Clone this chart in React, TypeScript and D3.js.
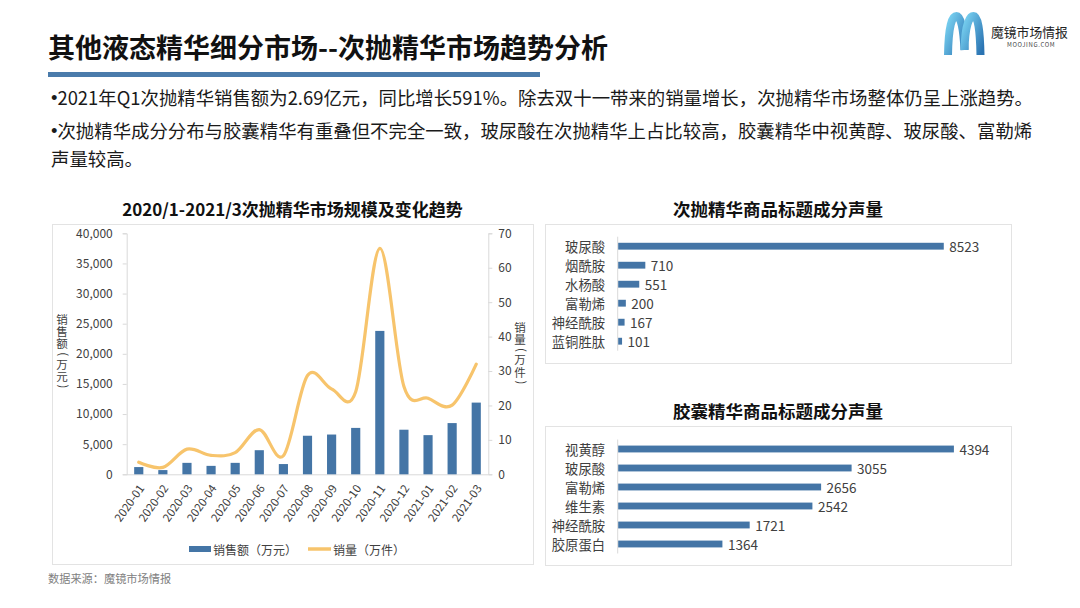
import { useRef, useEffect } from 'react'
import * as d3 from 'd3'

const FONT = "'Noto Sans CJK SC', 'Microsoft YaHei', sans-serif"
const BLUE = '#4475A6'
const ORANGE = '#F7C46C'
const AXIS = '#D9D9D9'
const TXT = '#404040'

// left combo chart
const MONTHS = ['2020-01', '2020-02', '2020-03', '2020-04', '2020-05', '2020-06', '2020-07', '2020-08',
  '2020-09', '2020-10', '2020-11', '2020-12', '2021-01', '2021-02', '2021-03']
const SALES = [1200, 700, 1900, 1400, 1900, 4000, 1700, 6400, 6600, 7700, 23800, 7400, 6500, 8500, 11900]
const VOLUME = [3.5, 2.0, 7.3, 5.5, 6.3, 13.0, 5.4, 28.7, 24.8, 24.0, 65.6, 25.5, 22.1, 20.1, 32.0]
const SALES_TICKS = [0, 5000, 10000, 15000, 20000, 25000, 30000, 35000, 40000]
const VOLUME_TICKS = [0, 10, 20, 30, 40, 50, 60, 70]

// right bar charts
const SINGLE_LABELS = ['玻尿酸', '烟酰胺', '水杨酸', '富勒烯', '神经酰胺', '蓝铜胜肽']
const SINGLE_VALUES = [8523, 710, 551, 200, 167, 101]
const CAPSULE_LABELS = ['视黄醇', '玻尿酸', '富勒烯', '维生素', '神经酰胺', '胶原蛋白']
const CAPSULE_VALUES = [4394, 3055, 2656, 2542, 1721, 1364]

const PLOT = { left: 126.7, right: 488.3, top: 233.3, bottom: 474.3 }

type Sel = d3.Selection<SVGSVGElement, unknown, null, undefined>

// stacked upright characters in one text element, brackets turned like Excel's vertical titles
function verticalText(svg: Sel, label: string, cx: number, cy: number, size: number) {
  const chars = Array.from(label)
  const isBracket = (c: string) => c === '（' || c === '）'
  const adv = size * 0.34
  const steps = chars.map((c) => (isBracket(c) ? 8 : 12.2))
  let y = cy - d3.sum(steps) / 2
  const t = svg.append('text').attr('font-size', size).attr('fill', TXT)
  chars.forEach((c, i) => {
    const yc = y + steps[i] / 2
    y += steps[i]
    if (isBracket(c)) {
      t.append('tspan')
        .attr('x', cx - size * 0.3).attr('y', yc - adv / 2).attr('rotate', 90)
        .text(c === '（' ? '(' : ')')
    } else {
      t.append('tspan').attr('x', cx - size / 2).attr('y', yc + size * 0.38).text(c)
    }
  })
}

export default function App() {
  const svgRef = useRef<SVGSVGElement>(null)

  useEffect(() => {
    if (!svgRef.current) return
    const svg = d3.select(svgRef.current) as Sel
    svg.selectAll('*').remove()

    svg.append('rect').attr('width', 1080).attr('height', 608).attr('fill', '#fff')

    // header
    svg.append('text')
      .attr('x', 48).attr('y', 46).attr('dominant-baseline', 'central')
      .attr('font-size', 27).attr('font-weight', 700).attr('fill', '#111')
      .text('其他液态精华细分市场--次抛精华市场趋势分析')
    svg.append('rect').attr('x', 48).attr('y', 72).attr('width', 492).attr('height', 5).attr('fill', '#4A7BAB')

    const bullets = [
      { y: 97, b: true, t: '2021年Q1次抛精华销售额为2.69亿元，同比增长591%。除去双十一带来的销量增长，次抛精华市场整体仍呈上涨趋势。' },
      { y: 130, b: true, t: '次抛精华成分分布与胶囊精华有重叠但不完全一致，玻尿酸在次抛精华上占比较高，胶囊精华中视黄醇、玻尿酸、富勒烯' },
      { y: 158, b: false, t: '声量较高。' },
    ]
    bullets.forEach((b) => {
      const t = svg.append('text')
        .attr('x', 51).attr('y', b.y).attr('dominant-baseline', 'central')
        .attr('font-size', 18.4).attr('fill', '#1a1a1a')
      if (b.b) t.append('tspan').attr('font-family', "'Liberation Sans', Arial, sans-serif").text('•')
      t.append('tspan').text(b.t)
    })

    // logo
    const defs = svg.append('defs')
    const grad = defs.append('linearGradient').attr('id', 'logoGrad')
      .attr('x1', 0).attr('y1', 0).attr('x2', 1).attr('y2', 1)
    grad.append('stop').attr('offset', '0%').attr('stop-color', '#7AD3F2')
    grad.append('stop').attr('offset', '100%').attr('stop-color', '#2A73B2')
    const logo = svg.append('g')
    logo.append('path')
      .attr('d', 'M 948 55 C 948.5 26, 952 16, 956.5 16 C 961 16, 963.5 30, 964.5 50')
      .attr('fill', 'none').attr('stroke', 'url(#logoGrad)').attr('stroke-width', 8)
    logo.append('path')
      .attr('d', 'M 964.5 50 C 965 26, 969 16, 973.5 16 C 978 16, 980 30, 980.5 55')
      .attr('fill', 'none').attr('stroke', 'url(#logoGrad)').attr('stroke-width', 8)
    logo.append('text').attr('x', 991).attr('y', 31).attr('dominant-baseline', 'central')
      .attr('font-size', 12.8).attr('fill', '#222').text('魔镜市场情报')
    logo.append('text').attr('x', 1007).attr('y', 44.5).attr('dominant-baseline', 'central')
      .attr('font-size', 6).attr('letter-spacing', 0.6).attr('fill', '#444').text('MOOJING.COM')

    // ---------- left combo chart ----------
    svg.append('rect').attr('x', 52.5).attr('y', 224.5).attr('width', 481).attr('height', 340)
      .attr('fill', 'none').attr('stroke', '#E3E3E3')
    svg.append('text')
      .attr('x', 292.5).attr('y', 208).attr('text-anchor', 'middle').attr('dominant-baseline', 'central')
      .attr('font-size', 17).attr('font-weight', 700).attr('fill', '#111')
      .text('2020/1-2021/3次抛精华市场规模及变化趋势')

    const x = d3.scaleBand().domain(MONTHS).range([PLOT.left, PLOT.right]).paddingInner(0.62).paddingOuter(0.31)
    const xc = (m: string) => (x(m) ?? 0) + x.bandwidth() / 2
    const yL = d3.scaleLinear().domain([0, 40000]).range([PLOT.bottom, PLOT.top])
    const yR = d3.scaleLinear().domain([0, 70]).range([PLOT.bottom, PLOT.top])

    svg.append('g')
      .attr('transform', `translate(${PLOT.left},0)`)
      .call(d3.axisLeft(yL).tickValues(SALES_TICKS).tickSize(4).tickPadding(10).tickFormat((d) => d3.format(',')(d as number)))
      .call((g) => {
        g.select('.domain').attr('stroke', AXIS)
        g.selectAll('.tick line').attr('stroke', AXIS)
        g.selectAll('text').attr('fill', TXT).attr('font-size', 12).attr('font-family', FONT)
      })
    svg.append('g')
      .attr('transform', `translate(${PLOT.right},0)`)
      .call(d3.axisRight(yR).tickValues(VOLUME_TICKS).tickSize(4).tickPadding(6))
      .call((g) => {
        g.select('.domain').attr('stroke', AXIS)
        g.selectAll('.tick line').attr('stroke', AXIS)
        g.selectAll('text').attr('fill', TXT).attr('font-size', 12).attr('font-family', FONT)
      })
    svg.append('line')
      .attr('x1', PLOT.left).attr('x2', PLOT.right).attr('y1', PLOT.bottom + 0.5).attr('y2', PLOT.bottom + 0.5)
      .attr('stroke', AXIS)

    svg.append('g').selectAll('rect')
      .data(MONTHS)
      .join('rect')
      .attr('x', (m) => x(m) ?? 0)
      .attr('y', (_, i) => yL(SALES[i]))
      .attr('width', x.bandwidth())
      .attr('height', (_, i) => PLOT.bottom - yL(SALES[i]))
      .attr('fill', BLUE)

    const line = d3.line<number>()
      .x((_, i) => xc(MONTHS[i]))
      .y((d) => yR(d))
      .curve(d3.curveCatmullRom.alpha(0))
    svg.append('path').attr('d', line(VOLUME)).attr('fill', 'none')
      .attr('stroke', ORANGE).attr('stroke-width', 3.2).attr('stroke-linecap', 'round')

    svg.append('g').selectAll('text')
      .data(MONTHS)
      .join('text')
      .attr('transform', (m) => `translate(${xc(m) + 2},${PLOT.bottom + 11}) rotate(-55)`)
      .attr('text-anchor', 'end').attr('dominant-baseline', 'central')
      .attr('font-size', 11.5).attr('fill', TXT)
      .text((m) => m)

    // axis titles, vertical
    verticalText(svg, '销售额（万元）', 62, 352, 11.5)
    verticalText(svg, '销量（万件）', 520, 354, 11.5)

    // legend
    svg.append('rect').attr('x', 189).attr('y', 546).attr('width', 22).attr('height', 6).attr('fill', BLUE)
    svg.append('text').attr('x', 213).attr('y', 549).attr('dominant-baseline', 'central')
      .attr('font-size', 12).attr('fill', TXT).text('销售额（万元）')
    svg.append('line').attr('x1', 308).attr('x2', 331).attr('y1', 549).attr('y2', 549)
      .attr('stroke', ORANGE).attr('stroke-width', 3.5)
    svg.append('text').attr('x', 333).attr('y', 549).attr('dominant-baseline', 'central')
      .attr('font-size', 12).attr('fill', TXT).text('销量（万件）')

    svg.append('text').attr('x', 48).attr('y', 578).attr('dominant-baseline', 'central')
      .attr('font-size', 11.2).attr('fill', '#808080').text('数据来源：魔镜市场情报')

    // ---------- right bar charts ----------
    function hbar(title: string, labels: string[], values: number[], max: number, boxTop: number, bandTop: number, bandBottom: number, titleY: number) {
      svg.append('text')
        .attr('x', 778).attr('y', titleY).attr('text-anchor', 'middle').attr('dominant-baseline', 'central')
        .attr('font-size', 17.5).attr('font-weight', 700).attr('fill', '#111')
        .text(title)
      svg.append('rect').attr('x', 545.5).attr('y', boxTop + 0.5).attr('width', 466).attr('height', 139)
        .attr('fill', 'none').attr('stroke', '#E3E3E3')

      const xs = d3.scaleLinear().domain([0, max]).range([617.7, 999.7])
      const ys = d3.scaleBand().domain(labels).range([bandTop, bandBottom]).paddingInner(0.64).paddingOuter(0.32)
      const g = svg.append('g')
      g.append('line').attr('x1', 617.7).attr('x2', 617.7).attr('y1', bandTop).attr('y2', bandBottom).attr('stroke', AXIS)
      g.selectAll('rect.bar')
        .data(labels)
        .join('rect')
        .attr('class', 'bar')
        .attr('x', xs(0) + 0.5)
        .attr('y', (l) => ys(l) ?? 0)
        .attr('width', (_, i) => xs(values[i]) - xs(0))
        .attr('height', ys.bandwidth())
        .attr('fill', BLUE)
      g.selectAll('text.cat')
        .data(labels)
        .join('text')
        .attr('class', 'cat')
        .attr('x', 605).attr('y', (l) => (ys(l) ?? 0) + ys.bandwidth() / 2)
        .attr('text-anchor', 'end').attr('dominant-baseline', 'central')
        .attr('font-size', 13.3).attr('fill', TXT)
        .text((l) => l)
      g.selectAll('text.val')
        .data(labels)
        .join('text')
        .attr('class', 'val')
        .attr('x', (_, i) => xs(values[i]) + 6).attr('y', (l) => (ys(l) ?? 0) + ys.bandwidth() / 2)
        .attr('dominant-baseline', 'central')
        .attr('font-size', 13.5).attr('fill', TXT)
        .text((_, i) => values[i])
    }

    hbar('次抛精华商品标题成分声量', SINGLE_LABELS, SINGLE_VALUES, 10000, 224, 236.7, 350.7, 208)
    hbar('胶囊精华商品标题成分声量', CAPSULE_LABELS, CAPSULE_VALUES, 5000, 426, 439.5, 553.5, 410)
  }, [])

  return (
    <svg
      ref={svgRef}
      width={1080}
      height={608}
      style={{ position: 'absolute', left: 0, top: 0, fontFamily: FONT }}
    />
  )
}
